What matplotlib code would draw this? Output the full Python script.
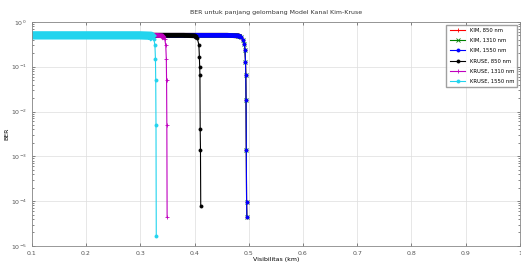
import matplotlib
matplotlib.use("Agg")
import matplotlib.pyplot as plt
from matplotlib.ticker import LogLocator, NullFormatter

# Model Kim: q = 0 untuk V < 0.5 km -> ketiga panjang gelombang sama
x_kim = [0.10, 0.20, 0.30, 0.40, 0.46, 0.48, 0.486, 0.490, 0.492, 0.493,
         0.494, 0.4945, 0.495, 0.4955, 0.496, 0.4965]
ber_kim = [0.5, 0.5, 0.5, 0.5, 0.5, 0.49, 0.46, 0.40, 0.32, 0.24,
           0.13, 0.066, 0.018, 1.4e-3, 9.6e-5, 4.4e-5]

# Model Kruse
x_kr850 = [0.10, 0.30, 0.38, 0.40, 0.405, 0.408, 0.409, 0.4095, 0.410, 0.4105, 0.411, 0.4115]
ber_kr850 = [0.5, 0.5, 0.5, 0.49, 0.44, 0.31, 0.167, 0.10, 0.066, 4e-3, 1.4e-3, 7.7e-5]

x_kr1310 = [0.10, 0.30, 0.33, 0.340, 0.345, 0.347, 0.348, 0.3485, 0.349, 0.3495]
ber_kr1310 = [0.5, 0.5, 0.5, 0.49, 0.42, 0.30, 0.15, 0.05, 5e-3, 4.4e-5]

x_kr1550 = [0.10, 0.20, 0.30, 0.32, 0.325, 0.327, 0.328, 0.3285, 0.329, 0.3295]
ber_kr1550 = [0.5, 0.5, 0.5, 0.49, 0.42, 0.30, 0.15, 0.05, 5e-3, 1.7e-5]

labels = ['KIM, 850 nm', 'KIM, 1310 nm', 'KIM, 1550 nm',
          'KRUSE, 850 nm', 'KRUSE, 1310 nm', 'KRUSE, 1550 nm']
xticks = [0.1, 0.2, 0.3, 0.4, 0.5, 0.6, 0.7, 0.8, 0.9, 1]

plt.rcParams['font.family'] = 'DejaVu Sans'
fig = plt.figure(figsize=(5.21, 2.70), dpi=100)
ax = fig.add_axes([0.061, 0.089, 0.937, 0.83])

series = [
    (x_kim, ber_kim, 'r', '+', 3.5),
    (x_kim, ber_kim, 'g', 'x', 3.5),
    (x_kim, ber_kim, 'b', 'o', 3.5),
    (x_kr850, ber_kr850, 'k', 'o', 3.5),
    (x_kr1310, ber_kr1310, 'm', '+', 3.5),
    (x_kr1550, ber_kr1550, '#22d4ee', 'o', 6),
]
for (x, y, c, mk, plat_w), lab in zip(series, labels):
    # bagian datar (BER ~ 0.5) tampak tebal karena marker yang rapat
    n = sum(1 for v in y if v >= 0.49)
    ax.semilogy(x[:n + 1], y[:n + 1], color=c, lw=plat_w, solid_capstyle='butt')
    ax.semilogy(x, y, color=c, lw=0.8, marker=mk, ms=2.2, mew=0.6, label=lab)

ax.set_xlim(0.1, 1)
ax.set_ylim(1e-5, 1)
ax.set_xticks(xticks)
ax.set_xticklabels([str(t) for t in xticks])
ax.yaxis.set_minor_locator(LogLocator(base=10, subs=range(2, 10)))
ax.yaxis.set_minor_formatter(NullFormatter())
ax.grid(True, which='major', color='#dddddd', lw=0.5)
ax.tick_params(which='both', direction='in', top=True, right=True,
               labelsize=4.5, colors='#555555', length=2, width=0.5)
ax.tick_params(which='minor', length=1.2)
for s in ax.spines.values():
    s.set_color('#888888')
    s.set_linewidth(0.6)

ax.set_title('BER untuk panjang gelombang Model Kanal Kim-Kruse', fontsize=4.5, pad=6,
             color='#333333')
ax.set_xlabel('Visibilitas (km)', fontsize=4.5, labelpad=1)
ax.set_ylabel('BER', fontsize=4.5, labelpad=1)

leg = ax.legend(loc='upper right', fontsize=3.8, frameon=True, fancybox=False,
                edgecolor='#888888', handlelength=3, borderpad=0.6, labelspacing=1.0)

fig.savefig('out.png', dpi=100)
